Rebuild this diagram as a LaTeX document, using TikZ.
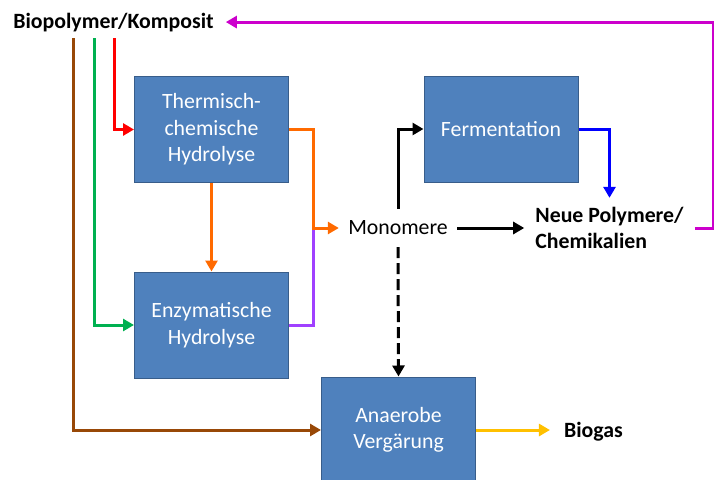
\documentclass[tikz,border=0pt]{standalone}
\usepackage{fontspec}
\setmainfont{Carlito}
\usetikzlibrary{arrows.meta}
\definecolor{boxfill}{HTML}{4F81BD}
\definecolor{boxline}{HTML}{385D8A}
\definecolor{cred}{HTML}{FF0000}
\definecolor{cgreen}{HTML}{00B050}
\definecolor{cbrown}{HTML}{984807}
\definecolor{corange}{HTML}{FF6A00}
\definecolor{cpurple}{HTML}{A040FF}
\definecolor{cmag}{HTML}{CC00CC}
\definecolor{cblue}{HTML}{0000FF}
\definecolor{cyellow}{HTML}{FFC000}
\tikzset{
  procbox/.style={draw=boxline, line width=1pt, fill=boxfill, text=white, align=center,
    minimum width=154pt, minimum height=106pt, inner sep=0pt,
    font=\fontsize{21.8}{26.5}\selectfont},
  lbl/.style={font=\fontsize{21.8}{26.5}\selectfont},
  blbl/.style={font=\fontsize{21.8}{26.5}\selectfont\bfseries},
  conn/.style={line width=3pt, -{Triangle[length=11pt,width=12pt]}},
  plain/.style={line width=3pt}
}
\begin{document}
\begin{tikzpicture}[x=1pt,y=-1pt]
\useasboundingbox (0,0) rectangle (714,479);
\clip (0,0) rectangle (714,479);
% nodes
\node[blbl, anchor=base, inner xsep=12pt] (bio) at (113.5,28) {Biopolymer/Komposit};
\node[procbox] (therm) at (211.5,129.5) {Thermisch-\\chemische\\Hydrolyse};
\node[procbox] (enz) at (211.5,325) {Enzymatische\\Hydrolyse};
\node[procbox] (ferm) at (501,129) {Fermentation};
\node[procbox] (anae) at (398.5,430) {Anaerobe\\Vergärung};
\node[lbl, inner sep=0pt, minimum width=118pt, minimum height=38pt] (mono) at (398,228) {Monomere};
\node[blbl, align=left, inner xsep=11pt, inner ysep=9pt] (neue) at (609.5,228) {Neue Polymere/\\Chemikalien};
\node[blbl, anchor=base, inner xsep=14pt] (biogas) at (593.5,437) {Biogas};
% coordinates
\coordinate (s1) at (73,38);
\coordinate (s2) at (94,38);
\coordinate (s3) at (114,38);
\coordinate (ox) at (313,0);
\coordinate (mx) at (713,0);
% connectors
\draw[conn, cbrown] (s1) |- (anae.west);
\draw[conn, cgreen] (s2) |- (enz.west);
\draw[conn, cred] (s3) |- (therm.west);
\draw[conn, corange] (therm.south) -- (enz.north);
\draw[plain, cpurple] (enz.east) -| (ox |- mono.west);
\draw[conn, corange] (therm.east) -| (ox |- mono.west) -- (mono.west);
\draw[conn, black] (mono.north) |- (ferm.west);
\draw[conn, black] (mono.east) -- (neue.west);
\draw[conn, black, dash pattern=on 11pt off 5pt] (mono.south) -- (anae.north);
\draw[conn, cblue] (ferm.east) -| (neue.north);
\draw[conn, cyellow] (anae.east) -- (anae.east -| biogas.west);
\draw[conn, cmag] (neue.east) -- (neue.east -| mx) |- (bio.east);
\end{tikzpicture}
\end{document}
